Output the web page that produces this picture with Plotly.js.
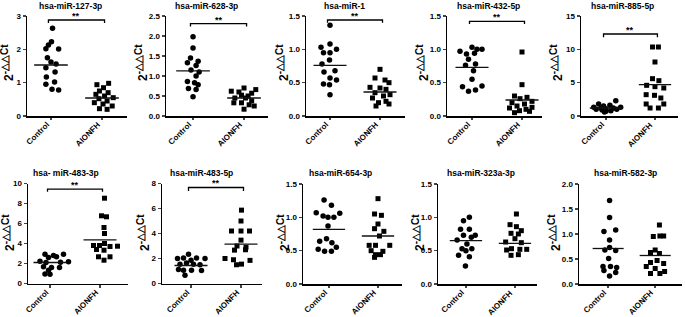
<!DOCTYPE html>
<html><head><meta charset="utf-8">
<script src="https://cdn.plot.ly/plotly-3.0.1.min.js"></script>
<style>html,body{margin:0;padding:0;background:#fff}#chart{width:685px;height:317px}</style>
</head><body><div id="chart"></div>
<script>
const groups = ['Control', 'AIONFH'];
const titles = ['hsa-miR-127-3p','hsa-miR-628-3p','hsa-miR-1','hsa-miR-432-5p','hsa-miR-885-5p',
                'hsa- miR-483-3p','hsa-miR-483-5p','hsa-miR-654-3p','hsa-miR-323a-3p','hsa-miR-582-3p'];
const yMax = [3, 2.5, 1.5, 1.5, 15, 10, 8, 1.5, 1.5, 2.0];
const yStep = [1, 0.5, 0.5, 0.5, 5, 2, 2, 0.5, 0.5, 0.5];
const significance = ['**','**','**','**','**','**','**','','',''];
const bracketLevel = [2.88, 2.31, 1.44, 1.42, 12.3, 9.43, 7.68, null, null, null];
const bracketDrop = [0.09, 0.07, 0.04, 0.04, 0.5, 0.26, 0.27, null, null, null];

// Control values (circles) and their horizontal jitter
const ctrl1 = [2.63,2.23,2.13,2.02,2.01,1.75,1.62,1.56,1.45,1.32,1.17,1.02,0.95,0.80,0.78];
const ctrl1dx = [0.03,0.01,-0.05,-0.1,0.15,-0.07,0,0.1,-0.1,0.08,-0.09,0.07,-0.1,0.02,0.15];
const aion1 = [0.98,0.94,0.85,0.75,0.70,0.65,0.60,0.55,0.52,0.45,0.40,0.36,0.30,0.22,0.20];
const aion1dx = [0.13,-0.1,0.03,-0.05,0.12,-0.12,0.05,0.22,-0.06,0.1,-0.15,0.02,0.2,-0.05,0.1];

const ctrl2 = [1.98,1.70,1.45,1.37,1.33,1.26,1.15,1.10,1.00,0.86,0.83,0.78,0.69,0.66,0.48];
const ctrl2dx = [0,0,-0.05,0.1,-0.11,0.06,-0.04,0.12,0.06,-0.11,0.03,0.1,-0.09,0.06,0];
const aion2 = [0.70,0.66,0.62,0.60,0.57,0.52,0.50,0.45,0.45,0.38,0.33,0.33,0.28,0.25,0.17];
const aion2dx = [0,0.23,-0.25,-0.1,0.15,-0.05,0.08,-0.18,0.03,0.15,-0.2,-0.05,0.1,0.2,0];

const ctrl3 = [1.36,1.08,1.03,1.00,0.95,0.95,0.84,0.78,0.68,0.66,0.57,0.54,0.48,0.47,0.32];
const ctrl3dx = [0,0,-0.18,0.13,-0.13,0,-0.01,-0.16,0.1,-0.12,0,0.13,-0.13,-0.01,0];
const aion3 = [0.70,0.57,0.54,0.50,0.43,0.42,0.40,0.35,0.32,0.30,0.27,0.22,0.20,0.18,0.15];
const aion3dx = [0,-0.1,0.1,0.18,-0.2,0,0.12,-0.1,0.2,0.07,-0.15,0.12,-0.03,0.18,-0.08];

const ctrl4 = [1.03,1.00,1.00,0.97,0.94,0.93,0.85,0.78,0.76,0.68,0.55,0.45,0.44,0.39,0.37];
const ctrl4dx = [0,0.1,0.2,-0.24,0.05,-0.11,-0.07,0.07,-0.13,0.03,0,0.2,-0.19,0.07,-0.07];
const aion4 = [0.96,0.47,0.30,0.28,0.26,0.22,0.20,0.18,0.15,0.13,0.12,0.10,0.08,0.07,0.05];
const aion4dx = [0,0,-0.15,0.1,-0.04,0.2,-0.2,0.05,-0.1,0.2,-0.25,0.08,-0.05,0.15,-0.15];

const ctrl5 = [2.3,1.8,1.6,1.5,1.3,1.3,1.2,1.2,1.1,1.0,1.0,0.9,0.8,0.7,0.6];
const ctrl5dx = [0.2,-0.15,0.08,-0.05,-0.25,0.3,-0.1,0.15,0,-0.2,0.22,-0.08,0.1,0,-0.03];
const aion5 = [10.35,10.35,8.1,5.6,5.3,4.6,4.4,4.2,3.2,3.1,2.7,1.8,1.8,1.2,1.2];
const aion5dx = [-0.05,0.07,0,-0.05,0.08,-0.17,0,0.18,-0.18,-0.01,0.12,-0.18,0.18,-0.1,0.07];

const ctrl6 = [2.93,2.93,2.8,2.67,2.6,2.23,2.17,2.13,2.1,1.67,1.6,1.6,1.33,0.95,0.93];
const ctrl6dx = [-0.1,0.27,0.07,0.13,-0.03,-0.2,0.37,0.21,-0.08,-0.13,0.03,0.19,-0.03,-0.1,0];
const aion6 = [8.53,6.77,6.67,5.6,5.0,4.0,3.8,3.8,3.73,3.7,3.4,3.33,2.67,2.67,2.33];
const aion6dx = [0.09,0.03,0.13,0.08,0.09,0.09,-0.01,-0.13,0.35,0.2,-0.07,0.08,-0.03,0.2,0.08];

const ctrl7 = [2.35,2.05,2.05,2.0,2.0,1.87,1.65,1.55,1.55,1.5,1.12,1.07,1.07,1.05,0.67];
const ctrl7dx = [-0.05,-0.15,0.11,-0.27,0.28,0,-0.09,-0.22,0.05,0.18,-0.25,-0.15,0.01,0.21,-0.12];
const aion7 = [5.87,5.0,4.2,4.2,4.2,3.47,3.0,2.9,2.7,2.67,2.0,1.9,1.85,1.55,1.5];
const aion7dx = [0.01,0,-0.19,0,0.17,0,-0.08,0.1,0.09,-0.13,-0.32,-0.15,0.18,0.01,-0.09];

const ctrl8 = [1.26,1.18,1.07,1.06,1.02,1.0,1.0,0.87,0.68,0.64,0.62,0.55,0.52,0.49,0.49];
const ctrl8dx = [-0.1,0.05,-0.26,0.22,-0.12,-0.02,0.1,-0.02,-0.05,-0.19,0.06,0.15,-0.22,-0.09,0.05];
const aion8 = [1.28,1.05,1.03,0.9,0.83,0.79,0.72,0.58,0.58,0.58,0.5,0.49,0.44,0.44,0.4];
const aion8dx = [0,-0.07,0.07,0,-0.07,0.12,0.03,-0.18,-0.05,0.24,-0.14,0.1,-0.05,0.05,-0.07];

const ctrl9 = [1.0,0.95,0.82,0.82,0.73,0.73,0.7,0.66,0.6,0.53,0.53,0.5,0.43,0.41,0.27];
const ctrl9dx = [0.07,-0.05,-0.11,0.07,-0.05,0.19,0.11,-0.18,0.02,-0.08,0.12,0,-0.15,0.07,-0.01];
const aion9 = [1.05,0.89,0.86,0.8,0.76,0.75,0.68,0.63,0.62,0.53,0.52,0.52,0.51,0.44,0.43];
const aion9dx = [0.03,-0.1,0.03,0.13,-0.08,0.07,0,-0.19,0.13,-0.07,0.1,0.24,-0.17,0.07,-0.08];

const ctrl10 = [1.67,1.33,1.08,1.05,0.88,0.73,0.68,0.67,0.51,0.35,0.35,0.33,0.27,0.23,0.16];
const ctrl10dx = [0.03,0.03,0.16,-0.09,0.03,0.03,-0.07,0.16,0.01,-0.11,0.05,0.18,-0.09,0.16,0.03];
const aion10 = [1.18,0.96,0.96,0.95,0.68,0.63,0.61,0.47,0.43,0.41,0.35,0.31,0.25,0.21,0.21];
const aion10dx = [0.09,0.1,0.18,-0.04,0,-0.1,0.09,0.04,-0.1,0.18,-0.19,0,0.2,0.1,-0.1];

const ctrlMean = [1.53, 1.13, 0.76, 0.73, 1.2, 2.1, 1.44, 0.82, 0.65, 0.71];
const aionMean = [0.54, 0.45, 0.36, 0.24, 4.7, 4.37, 3.15, 0.72, 0.61, 0.57];

const ctrlAll = [ctrl1,ctrl2,ctrl3,ctrl4,ctrl5,ctrl6,ctrl7,ctrl8,ctrl9,ctrl10];
const ctrlDx = [ctrl1dx,ctrl2dx,ctrl3dx,ctrl4dx,ctrl5dx,ctrl6dx,ctrl7dx,ctrl8dx,ctrl9dx,ctrl10dx];
const aionAll = [aion1,aion2,aion3,aion4,aion5,aion6,aion7,aion8,aion9,aion10];
const aionDx = [aion1dx,aion2dx,aion3dx,aion4dx,aion5dx,aion6dx,aion7dx,aion8dx,aion9dx,aion10dx];

// Layout geometry in pixels
const W = 685, H = 317;
const px = [[27,127],[166,268],[306,405],[447,542],[581,678],[28,128],[162,262],[303,402],[438,537],[579,682]];
const py = [[16,116],[16,116],[16,116],[16,116],[16,116],[183.5,283.5],[183.5,283.5],[184,284],[184,284],[184,284]];
const xr = [[-0.47,1.49],[-0.53,1.47],[-0.48,1.5],[-0.5,1.4],[-0.51,1.47],[-0.44,1.56],[-0.58,1.42],[-0.53,1.49],[-0.57,1.45],[-0.62,1.57]];
const titleX = [70,206,344,488,622,66,201,340,481,625];
const titleY = [6,6,6,6,6,173,173,173,173,173];
const yTitleX = [8,142,283,423,557,8,143,283,418,554];
const yTitleY = [63,63,63,63,63,233,233,233,233,233];

const FONT = 'Arial, "Liberation Sans", sans-serif';
const traces = [];
const layout = {
  width: W, height: H, margin: {l:0, r:0, t:0, b:0},
  paper_bgcolor: '#fff', plot_bgcolor: '#fff', showlegend: false,
  font: {family: FONT, color: '#000'},
  annotations: []
};

for (let i = 0; i < 10; i++) {
  const s = i === 0 ? '' : String(i + 1);
  const xa = 'x' + s, ya = 'y' + s;
  layout['xaxis' + s] = {
    domain: [px[i][0]/W, px[i][1]/W], range: xr[i], anchor: ya,
    tickmode: 'array', tickvals: [0, 1], ticktext: groups, showticklabels: false,
    showline: true, linecolor: '#000', linewidth: 1.5, ticks: 'outside', ticklen: 2.5, tickwidth: 1.5,
    showgrid: false, zeroline: false, fixedrange: true, automargin: false
  };
  layout['yaxis' + s] = {
    domain: [1 - py[i][1]/H, 1 - py[i][0]/H], range: [0, yMax[i]], anchor: xa,
    dtick: yStep[i], tick0: 0, tickformat: yStep[i] < 1 ? '.1f' : 'd',
    tickfont: {size: 8, weight: 700, family: FONT},
    showline: true, linecolor: '#000', linewidth: 1.5, ticks: 'outside', ticklen: 3, tickwidth: 1.5,
    showgrid: false, zeroline: false, fixedrange: true, automargin: false
  };
  // category labels, rotated 45 degrees and ending at each category tick
  groups.forEach((g, k) => {
    layout.annotations.push({
      xref: xa, yref: 'paper', x: k, y: 1 - (py[i][1] + 2)/H,
      xanchor: 'right', yanchor: 'top', xshift: 3, showarrow: false, textangle: -45,
      text: g, font: {size: 8, weight: 700, family: FONT}
    });
  });
  traces.push({
    type: 'scatter', mode: 'markers', xaxis: xa, yaxis: ya, cliponaxis: false,
    x: ctrlDx[i].map(d => 0 + d), y: ctrlAll[i],
    marker: {symbol: 'circle', size: 5.5, color: '#000'}
  });
  traces.push({
    type: 'scatter', mode: 'markers', xaxis: xa, yaxis: ya, cliponaxis: false,
    x: aionDx[i].map(d => 1 + d), y: aionAll[i],
    marker: {symbol: 'square', size: 5, color: '#000'}
  });
  traces.push({
    type: 'scatter', mode: 'lines', xaxis: xa, yaxis: ya,
    x: [-0.33, 0.33], y: [ctrlMean[i], ctrlMean[i]], line: {color: '#111', width: 1.3}
  });
  traces.push({
    type: 'scatter', mode: 'lines', xaxis: xa, yaxis: ya,
    x: [0.67, 1.33], y: [aionMean[i], aionMean[i]], line: {color: '#111', width: 1.3}
  });
  if (significance[i]) {
    const b = bracketLevel[i], d = bracketDrop[i];
    traces.push({
      type: 'scatter', mode: 'lines', xaxis: xa, yaxis: ya, cliponaxis: false,
      x: [-0.05, -0.05, 1.05, 1.05], y: [b - d, b, b, b - d], line: {color: '#000', width: 1.3}
    });
    layout.annotations.push({
      xref: xa, yref: ya, x: 0.5, y: b, yanchor: 'bottom', showarrow: false, yshift: -3,
      text: significance[i], font: {size: 9, weight: 700, family: FONT}
    });
  }
  layout.annotations.push({
    xref: 'paper', yref: 'paper', x: titleX[i]/W, y: 1 - titleY[i]/H, xanchor: 'center', yanchor: 'middle',
    showarrow: false, text: titles[i], font: {size: 8.5, weight: 700, family: FONT}
  });
  layout.annotations.push({
    xref: 'paper', yref: 'paper', x: yTitleX[i]/W, y: 1 - yTitleY[i]/H, xanchor: 'center', yanchor: 'middle',
    showarrow: false, textangle: -90,
    text: '2<sup><span style="font-size:10px">-△△Ct</span></sup>', font: {size: 12, weight: 700, family: FONT}
  });
}

Plotly.newPlot('chart', traces, layout, {staticPlot: true, displayModeBar: false});
</script>
</body></html>
